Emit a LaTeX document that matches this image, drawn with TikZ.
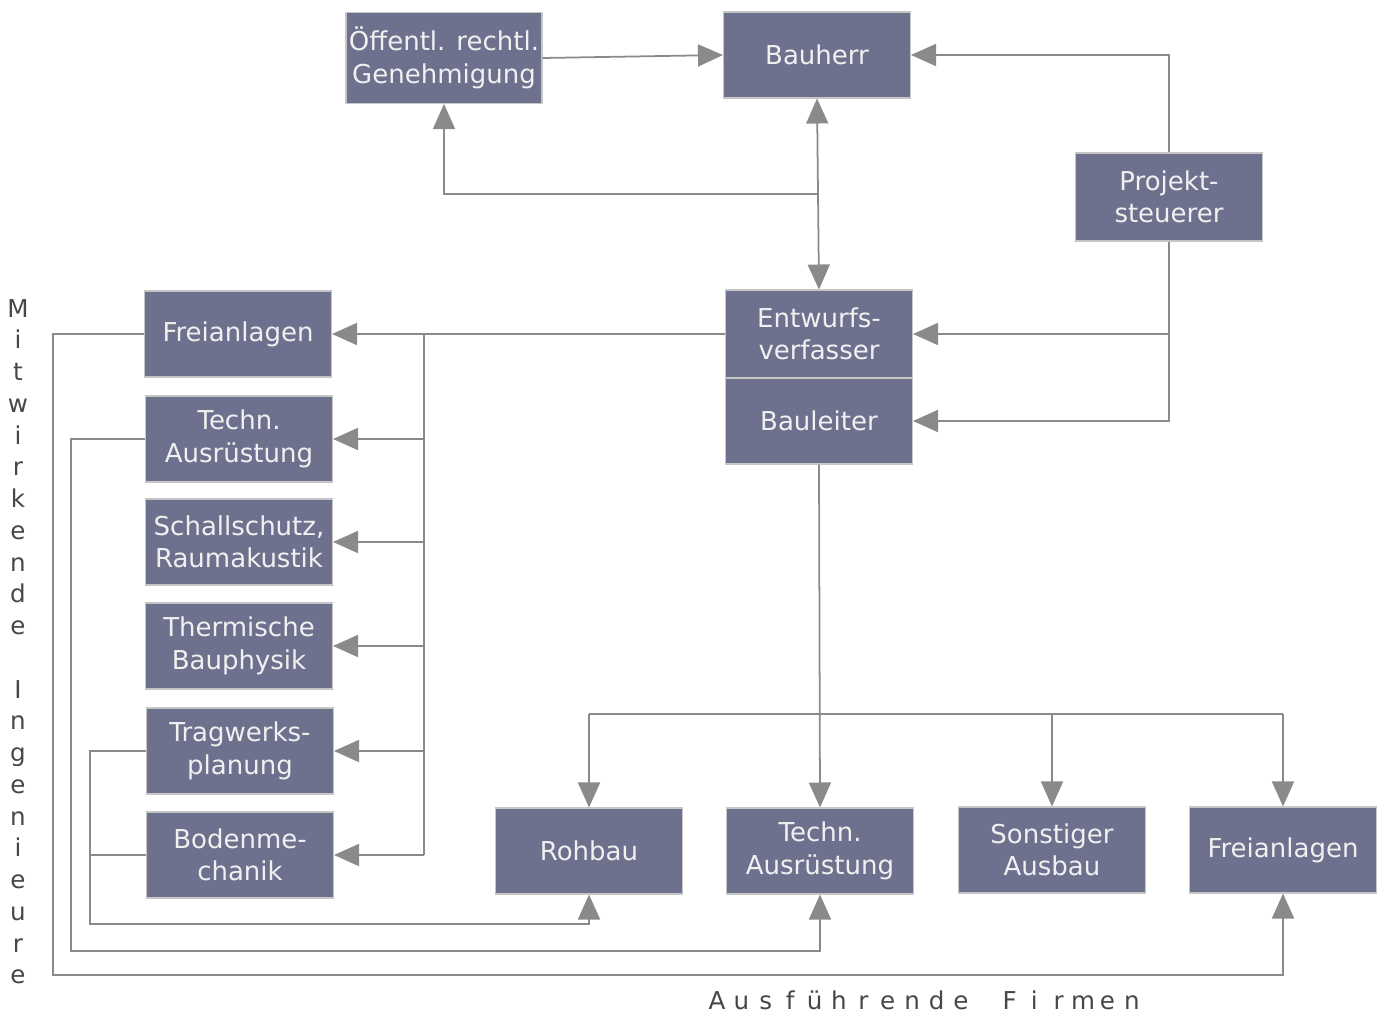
\documentclass[tikz,border=0pt]{standalone}
\usepackage{fontspec}
\setmainfont{DejaVu Sans}
\usetikzlibrary{arrows.meta}
\definecolor{boxblue}{HTML}{6E718E}
\definecolor{linegray}{HTML}{8A8A8A}

\begin{document}
\begin{tikzpicture}[x=0.02cm,y=-0.02cm,
  box/.style={draw=gray!45,line width=0.6pt,fill=boxblue,text=white!94!black,
    minimum width=3.74cm,minimum height=1.72cm,inner sep=0pt,align=center,
    font=\fontsize{14.8}{18.5}\selectfont},
  line/.style={draw=linegray,line width=1pt},
  arr/.style={line,-{Triangle[length=0.5cm,width=0.44cm]}},
  arrr/.style={line,{Triangle[length=0.5cm,width=0.44cm]}-{Triangle[length=0.5cm,width=0.44cm]}},
  letter/.style={inner sep=0pt,anchor=base,text=black!72,font=\fontsize{14}{17}\selectfont}]
\useasboundingbox (0,0) rectangle (1385,1014);

% top
\node[box,minimum width=3.92cm,minimum height=1.82cm] (oeff) at (444,58) {Öffentl. rechtl.\\Genehmigung};
\node[box] (bauherr) at (817,55) {Bauherr};
\node[box,minimum height=1.76cm] (proj) at (1169,197) {Projekt-\\steuerer};
\node[box,minimum height=1.76cm] (entw) at (819,334) {Entwurfs-\\verfasser};
\node[box] (leiter) at (819,421) {Bauleiter};

% mitwirkende Ingenieure
\node[box] (frei1) at (238,334) {Freianlagen};
\node[box] (tech1) at (239,439) {Techn.\\Ausrüstung};
\node[box] (schall) at (239,542) {Schallschutz,\\Raumakustik};
\node[box] (therm) at (239,646) {Thermische\\Bauphysik};
\node[box] (trag) at (240,751) {Tragwerks-\\planung};
\node[box] (boden) at (240,855) {Bodenme-\\chanik};

% ausfuehrende Firmen
\node[box] (roh) at (589,851) {Rohbau};
\node[box] (tech2) at (820,851) {Techn.\\Ausrüstung};
\node[box] (sonst) at (1052,850) {Sonstiger\\Ausbau};
\node[box] (frei2) at (1283,850) {Freianlagen};

\coordinate (br) at (818,194);
\coordinate (bus) at (424,334);
\coordinate (bot) at (820,714);
\coordinate (l1) at (53,975);
\coordinate (l2) at (71,951);
\coordinate (l3) at (90,924);

\draw[arr] (oeff.east) -- (bauherr.west);
\draw[arr] (proj.north) |- (bauherr.east);
\draw[arr] (proj.south) |- (entw.east);
\draw[arr] (proj.south) |- (leiter.east);
\draw[arrr] (bauherr.south) -- (entw.north);
\draw[arr] (br) -| (oeff.south);

\draw[arr] (entw.west) -- (frei1.east);
\draw[line] (bus) -- (bus |- boden.east);
\foreach \n in {tech1,schall,therm,trag,boden}
  \draw[arr] (bus |- \n.east) -- (\n.east);

\draw[arr] (leiter.south) -- (tech2.north);
\draw[line] (roh.north |- bot) -- (frei2.north |- bot);
\foreach \n in {roh,sonst,frei2}
  \draw[arr] (\n.north |- bot) -- (\n.north);

\draw[arr] (frei1.west) -| (l1) -| (frei2.south);
\draw[arr] (tech1.west) -| (l2) -| (tech2.south);
\draw[arr] (trag.west) -| (l3) -| (roh.south);
\draw[line] (boden.west) -- (boden.west -| l3);

% labels
\foreach \ch [count=\i] in {M,i,t,w,i,r,k,e,n,d,e,{},I,n,g,e,n,i,e,u,r,e}
  \node[letter] (mi-\i) at (18,317+31.76*\i-31.76) {\ch};
\foreach \ch [count=\i] in {A,u,s,f,ü,h,r,e,n,d,e,{},F,i,r,m,e,n}
  \node[letter] (af-\i) at (717+24.4*\i-24.4,1009) {\ch};
\end{tikzpicture}
\end{document}
